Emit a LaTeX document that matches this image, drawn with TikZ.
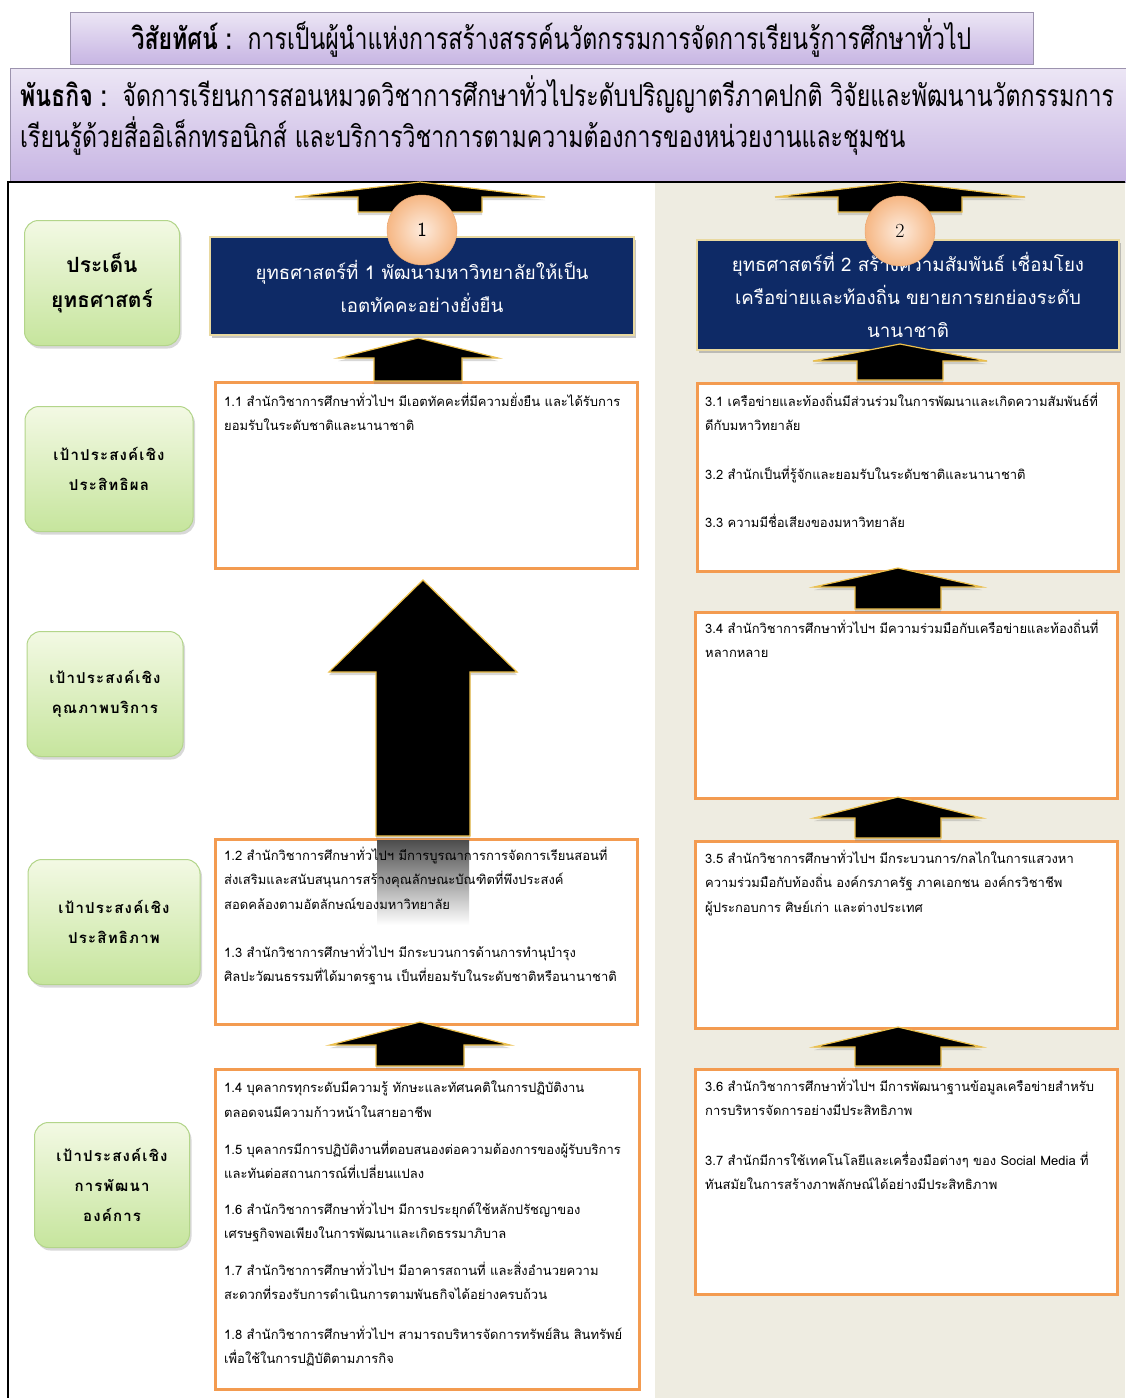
\documentclass[tikz,border=0pt]{standalone}
\usepackage{fontspec}
\usetikzlibrary{shadows}
\newfontfamily\thaifont[Script=Thai]{Loma}
\newfontfamily\thaicond[Script=Thai,FakeStretch=0.77]{Loma}
\newfontfamily\thaispaced[Script=Thai,LetterSpace=8]{Loma}
\definecolor{tanback}{HTML}{EEECE1}
\definecolor{lavtop}{HTML}{ECE6F5}
\definecolor{lavbot}{HTML}{C7B5E3}
\definecolor{lavline}{HTML}{9C93AE}
\definecolor{greentop}{HTML}{F3F9E4}
\definecolor{greenbot}{HTML}{C6E59D}
\definecolor{greenline}{HTML}{B3D58A}
\definecolor{navy}{HTML}{0E2A66}
\definecolor{navyline}{HTML}{E9D9A0}
\definecolor{orangeline}{HTML}{F39B50}
\definecolor{arrowgold}{HTML}{EDC04A}
\definecolor{peachin}{HTML}{FDEBDD}
\definecolor{peachout}{HTML}{F6B784}
\definecolor{peachline}{HTML}{E8A56F}

% block arrow pointing up: centre x, tip y, head y, foot y, head half width, shaft half width
\newcommand{\uparrowblock}[6]{%
	\filldraw[blockarrow] (#1,#2) -- (#1+#5,#3) -- (#1+#6,#3) -- (#1+#6,#4)
		-- (#1-#6,#4) -- (#1-#6,#3) -- (#1-#5,#3) -- cycle;}

\begin{document}
\begin{tikzpicture} [x = 1pt, y = -1pt,
	goalbox/.style = {draw = orangeline, line width = 2.5pt, fill = white, anchor = north west,
		drop shadow = {opacity = 0.25, shadow xshift = 2pt, shadow yshift = -2pt}},
	goaltext/.style = {anchor = north west, align = left, inner sep = 0pt, font = \fontsize{13}{24.3}\thaifont,
		execute at begin node = \rule{0pt}{16pt}},
	greenbox/.style = {rounded corners = 14pt, draw = greenline, line width = 1pt, top color = greentop, bottom color = greenbot,
		align = center, font = \fontsize{15}{30}\thaispaced\bfseries,
		drop shadow = {opacity = 0.3, shadow xshift = 2pt, shadow yshift = -3pt}},
	navybox/.style = {fill = navy, draw = navyline, line width = 1.2pt, text = white, align = center,
		font = \fontsize{18.7}{33}\thaifont, drop shadow = {opacity = 0.45, shadow xshift = 2pt, shadow yshift = -3pt}},
	numball/.style = {circle, minimum size = 70pt, inner color = peachin, outer color = peachout, draw = peachline},
	headbox/.style = {draw = lavline, top color = lavtop, bottom color = lavbot, line width = 1pt},
	blockarrow/.style = {fill = black, draw = arrowgold, line width = 1.2pt,
		drop shadow = {opacity = 0.3, shadow xshift = 0pt, shadow yshift = -3pt}},
]
	\useasboundingbox (0, 0) rectangle (1125, 1398);
	\fill[white] (0, 0) rectangle (1125, 1398);
	\fill[tanback] (655, 182) rectangle (1125, 1398);

	% vision and mission
	\node[headbox, minimum width = 963pt, minimum height = 52pt] (vision) at (551.5, 38)
		{\fontsize{30}{30}\thaicond\textbf{วิสัยทัศน์ :}\ \ การเป็นผู้นำแห่งการสร้างสรรค์นวัตกรรมการจัดการเรียนรู้การศึกษาทั่วไป};
	\node[headbox, anchor = north west, minimum width = 1117pt, minimum height = 114pt] (mission) at (10, 68) {};
	\node[anchor = north west, align = left, inner sep = 0pt, font = \fontsize{30}{41}\thaicond,
		execute at begin node = \rule{0pt}{32pt}] (missiontext) at (20, 75)
		{\textbf{พันธกิจ :}\ \ จัดการเรียนการสอนหมวดวิชาการศึกษาทั่วไประดับปริญญาตรีภาคปกติ วิจัยและพัฒนานวัตกรรมการ\\
		เรียนรู้ด้วยสื่ออิเล็กทรอนิกส์ และบริการวิชาการตามความต้องการของหน่วยงานและชุมชน};
	\draw[line width = 2.5pt] (8, 1398) -- (8, 182) -- (1125, 182);

	% row labels
	\node[greenbox, minimum width = 155pt, minimum height = 125pt, font = \fontsize{21}{35}\thaifont\bfseries] (issue) at (102, 283)
		{ประเด็น\\ยุทธศาสตร์};
	\node[greenbox, minimum width = 168pt, minimum height = 125pt] (effect) at (109, 469) {เป้าประสงค์เชิง\\ประสิทธิผล};
	\node[greenbox, minimum width = 156pt, minimum height = 125pt] (quality) at (105, 694) {เป้าประสงค์เชิง\\คุณภาพบริการ};
	\node[greenbox, minimum width = 172pt, minimum height = 125pt] (efficient) at (114, 922) {เป้าประสงค์เชิง\\ประสิทธิภาพ};
	\node[greenbox, minimum width = 155pt, minimum height = 125pt] (develop) at (112, 1185) {เป้าประสงค์เชิง\\การพัฒนา\\องค์การ};

	% goal boxes
	\node[goalbox, minimum width = 422pt, minimum height = 186pt] (g11) at (214, 381) {};
	\node[goalbox, minimum width = 422pt, minimum height = 185pt] (g12) at (214, 838) {};
	\node[goalbox, minimum width = 424pt, minimum height = 320pt] (g14) at (214, 1068) {};
	\node[goalbox, minimum width = 421pt, minimum height = 188pt] (g31) at (696, 382) {};
	\node[goalbox, minimum width = 422pt, minimum height = 186pt] (g34) at (694, 611) {};
	\node[goalbox, minimum width = 422pt, minimum height = 187pt] (g35) at (694, 840) {};
	\node[goalbox, minimum width = 422pt, minimum height = 225pt] (g36) at (694, 1068) {};

	% strategies
	\node[navybox, minimum width = 424pt, minimum height = 98pt] (strat1) at (422, 286)
		{ยุทธศาสตร์ที่ 1 พัฒนามหาวิทยาลัยให้เป็น\\เอตทัคคะอย่างยั่งยืน};
	\node[navybox, minimum width = 422pt, minimum height = 110pt] (strat2) at (908, 295)
		{ยุทธศาสตร์ที่ 2 สร้างความสัมพันธ์ เชื่อมโยง\\เครือข่ายและท้องถิ่น ขยายการยกย่องระดับ\\นานาชาติ};

	% arrows
	\uparrowblock{420}{182}{197}{212}{125}{62}
	\uparrowblock{900}{182}{197}{212}{125}{62}
	\uparrowblock{418}{338}{358}{381}{80}{44}
	\uparrowblock{423}{580}{672}{836}{94}{47}
	\uparrowblock{420}{1022}{1045}{1066}{90}{44}
	\uparrowblock{900}{344}{361}{380}{87}{43}
	\uparrowblock{898}{568}{587}{609}{84}{43}
	\uparrowblock{898}{797}{818}{838}{84}{43}
	\uparrowblock{898}{1027}{1047}{1066}{84}{43}
	\shade[top color = black!70, bottom color = white] (377, 840) rectangle (469, 925);

	\node[numball] (n1) at (422, 230) {\fontsize{20}{20}\sffamily 1};
	\node[numball] (n2) at (900, 231) {\fontsize{20}{20}\rmfamily 2};

	% goal texts
	\node[goaltext] (t11) at (224, 393) {1.1 สำนักวิชาการศึกษาทั่วไปฯ มีเอตทัคคะที่มีความยั่งยืน และได้รับการ\\
		ยอมรับในระดับชาติและนานาชาติ};
	\node[goaltext] (t12) at (224, 847) {1.2 สำนักวิชาการศึกษาทั่วไปฯ มีการบูรณาการการจัดการเรียนสอนที่\\
		ส่งเสริมและสนับสนุนการสร้างคุณลักษณะบัณฑิตที่พึงประสงค์\\
		สอดคล้องตามอัตลักษณ์ของมหาวิทยาลัย\\[24pt]
		1.3 สำนักวิชาการศึกษาทั่วไปฯ มีกระบวนการด้านการทำนุบำรุง\\
		ศิลปะวัฒนธรรมที่ได้มาตรฐาน เป็นที่ยอมรับในระดับชาติหรือนานาชาติ};
	\node[goaltext] (t14) at (224, 1081) {1.4 บุคลากรทุกระดับมีความรู้ ทักษะและทัศนคติในการปฏิบัติงาน\\
		ตลอดจนมีความก้าวหน้าในสายอาชีพ\\[13pt]
		1.5 บุคลากรมีการปฏิบัติงานที่ตอบสนองต่อความต้องการของผู้รับบริการ\\
		และทันต่อสถานการณ์ที่เปลี่ยนแปลง\\[11pt]
		1.6 สำนักวิชาการศึกษาทั่วไปฯ มีการประยุกต์ใช้หลักปรัชญาของ\\
		เศรษฐกิจพอเพียงในการพัฒนาและเกิดธรรมาภิบาล\\[13pt]
		1.7 สำนักวิชาการศึกษาทั่วไปฯ มีอาคารสถานที่ และสิ่งอำนวยความ\\
		สะดวกที่รองรับการดำเนินการตามพันธกิจได้อย่างครบถ้วน\\[15pt]
		1.8 สำนักวิชาการศึกษาทั่วไปฯ สามารถบริหารจัดการทรัพย์สิน สินทรัพย์\\
		เพื่อใช้ในการปฏิบัติตามภารกิจ};
	\node[goaltext] (t31) at (705, 393) {3.1 เครือข่ายและท้องถิ่นมีส่วนร่วมในการพัฒนาและเกิดความสัมพันธ์ที่\\
		ดีกับมหาวิทยาลัย\\[24pt]
		3.2 สำนักเป็นที่รู้จักและยอมรับในระดับชาติและนานาชาติ\\[24pt]
		3.3 ความมีชื่อเสียงของมหาวิทยาลัย};
	\node[goaltext] (t34) at (705, 620) {3.4 สำนักวิชาการศึกษาทั่วไปฯ มีความร่วมมือกับเครือข่ายและท้องถิ่นที่\\
		หลากหลาย};
	\node[goaltext] (t35) at (705, 850) {3.5 สำนักวิชาการศึกษาทั่วไปฯ มีกระบวนการ/กลไกในการแสวงหา\\
		ความร่วมมือกับท้องถิ่น องค์กรภาครัฐ ภาคเอกชน องค์กรวิชาชีพ\\
		ผู้ประกอบการ ศิษย์เก่า และต่างประเทศ};
	\node[goaltext] (t36) at (705, 1078) {3.6 สำนักวิชาการศึกษาทั่วไปฯ มีการพัฒนาฐานข้อมูลเครือข่ายสำหรับ\\
		การบริหารจัดการอย่างมีประสิทธิภาพ\\[25pt]
		3.7 สำนักมีการใช้เทคโนโลยีและเครื่องมือต่างๆ ของ Social Media ที่\\
		ทันสมัยในการสร้างภาพลักษณ์ได้อย่างมีประสิทธิภาพ};
\end{tikzpicture}
\end{document}
